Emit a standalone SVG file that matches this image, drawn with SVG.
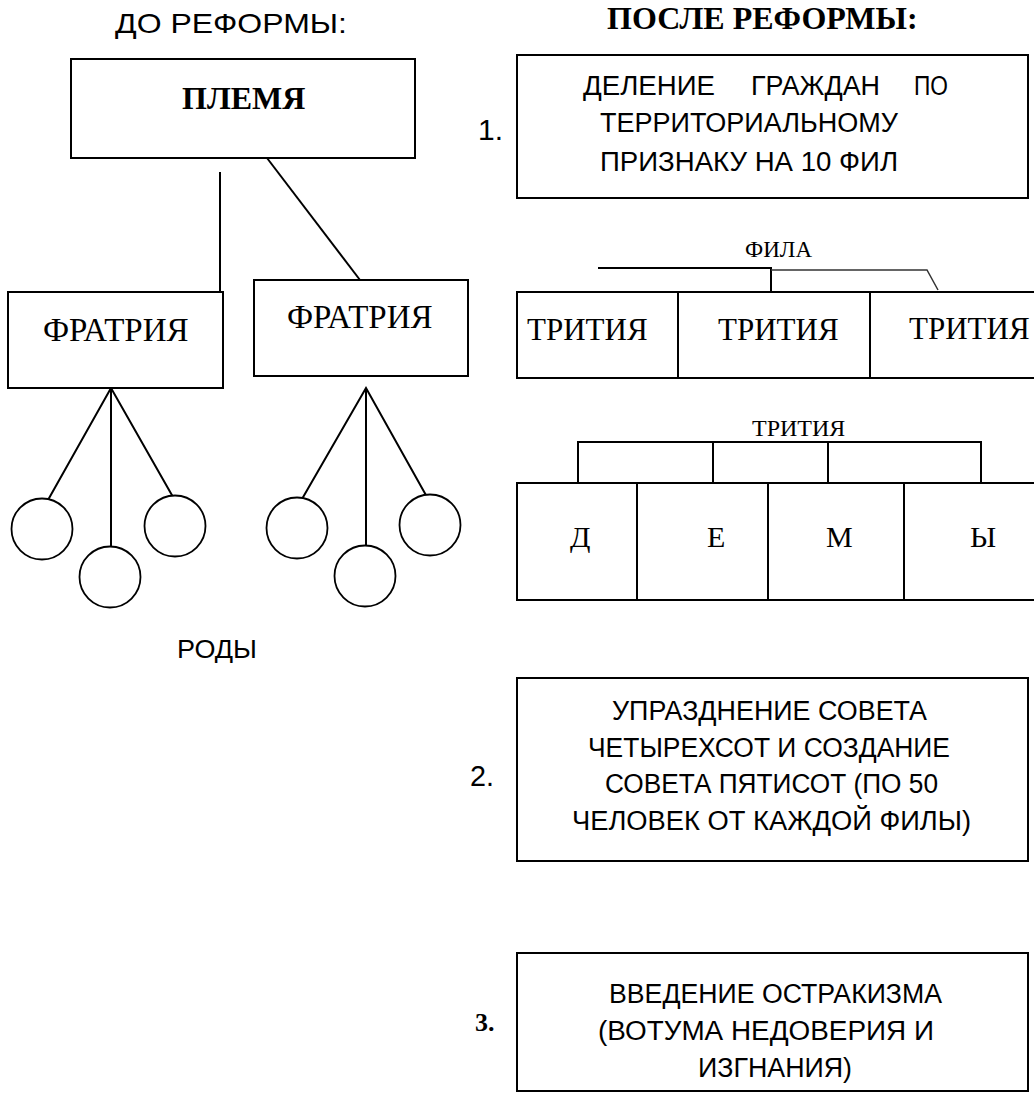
<svg xmlns="http://www.w3.org/2000/svg" width="1034" height="1095" viewBox="0 0 1034 1095">
<style>
.box{fill:#fff;stroke:#000;stroke-width:2}
.ln{fill:none;stroke:#000;stroke-width:2}
.thin{fill:none;stroke:#333;stroke-width:1.5}
.circ{fill:#fff;stroke:#000;stroke-width:1.8}
.sans{font-family:'Liberation Sans','DejaVu Sans',sans-serif;fill:#000}
</style>
<rect width="1034" height="1095" fill="#fff"/>

<g id="headings">
<text class="sans" x="115" y="33" font-size="28" textLength="232" lengthAdjust="spacingAndGlyphs">ДО РЕФОРМЫ:</text>
<text font-family="'Liberation Serif', serif" font-weight="bold" x="607" y="29" font-size="32">ПОСЛЕ РЕФОРМЫ:</text>
</g>

<g id="connectors">
<line class="ln" x1="220" y1="172" x2="220" y2="292"/>
<line class="ln" x1="267" y1="158" x2="360" y2="280"/>
<polyline class="ln" points="48,500 111,388 173,497"/>
<line class="ln" x1="111" y1="388" x2="111" y2="546"/>
<polyline class="ln" points="302,499 366,388 427,497"/>
<line class="ln" x1="366" y1="388" x2="366" y2="545"/>
<polyline class="ln" points="598,268 771,268 771,292"/>
<polyline class="thin" points="771,270 927,270 938,290"/>
<polyline class="ln" points="578,483 578,442 981,442 981,483"/>
<line class="ln" x1="713" y1="442" x2="713" y2="483"/>
<line class="ln" x1="828" y1="442" x2="828" y2="483"/>
</g>

<g id="plemya">
<rect class="box" x="71" y="59" width="344" height="99"/>
<text font-family="'Liberation Serif', serif" font-weight="bold" x="182" y="109" font-size="32">ПЛЕМЯ</text>
</g>

<g id="fratria-left">
<rect class="box" x="8" y="292" width="215" height="96"/>
<text font-family="'Liberation Serif', serif" x="43" y="341" font-size="33">ФРАТРИЯ</text>
</g>

<g id="fratria-right">
<rect class="box" x="254" y="280" width="214" height="96"/>
<text font-family="'Liberation Serif', serif" x="287" y="328" font-size="33">ФРАТРИЯ</text>
</g>

<g id="rody-left">
<circle class="circ" cx="42" cy="529" r="30.5"/>
<circle class="circ" cx="110" cy="577" r="30.5"/>
<circle class="circ" cx="175" cy="526" r="30.5"/>
</g>
<g id="rody-right">
<circle class="circ" cx="297" cy="528" r="30.5"/>
<circle class="circ" cx="365" cy="576" r="30.5"/>
<circle class="circ" cx="430" cy="525" r="30.5"/>
</g>
<g id="rody-label">
<text class="sans" x="177" y="658" font-size="26" textLength="80" lengthAdjust="spacingAndGlyphs">РОДЫ</text>
</g>

<g id="reform1">
<text class="sans" x="478" y="140" font-size="29" textLength="25" lengthAdjust="spacingAndGlyphs">1.</text>
<rect class="box" x="517" y="55" width="511" height="143"/>
<text class="sans" y="95" font-size="27"><tspan x="583" textLength="132" lengthAdjust="spacingAndGlyphs">ДЕЛЕНИЕ</tspan><tspan x="751" textLength="129" lengthAdjust="spacingAndGlyphs">ГРАЖДАН</tspan><tspan x="914" textLength="34" lengthAdjust="spacingAndGlyphs">ПО</tspan></text>
<text class="sans" x="600" y="132" font-size="27" textLength="298" lengthAdjust="spacingAndGlyphs">ТЕРРИТОРИАЛЬНОМУ</text>
<text class="sans" x="600" y="171" font-size="27" textLength="298" lengthAdjust="spacingAndGlyphs">ПРИЗНАКУ НА 10 ФИЛ</text>
</g>

<g id="fila">
<text font-family="'Liberation Serif', serif" x="745" y="257" font-size="23">ФИЛА</text>
<path class="ln" d="M1036,292 H517 V378 H1036 M678,292 V378 M870,292 V378"/>
<text font-family="'Liberation Serif', serif" x="527" y="340" font-size="31">ТРИТИЯ</text>
<text font-family="'Liberation Serif', serif" x="718" y="340" font-size="31">ТРИТИЯ</text>
<text font-family="'Liberation Serif', serif" x="909" y="339" font-size="31">ТРИТИЯ</text>
</g>

<g id="trittys">
<text font-family="'Liberation Serif', serif" x="752" y="436" font-size="24">ТРИТИЯ</text>
<path class="ln" d="M1036,483 H517 V600 H1036 M637,483 V600 M768,483 V600 M904,483 V600"/>
<text font-family="'Liberation Serif', serif" x="570" y="547" font-size="30">Д</text>
<text font-family="'Liberation Serif', serif" x="707" y="547" font-size="30">Е</text>
<text font-family="'Liberation Serif', serif" x="826" y="547" font-size="30">М</text>
<text font-family="'Liberation Serif', serif" x="970" y="547" font-size="30">Ы</text>
</g>

<g id="reform2">
<text class="sans" x="470" y="786" font-size="29" textLength="24" lengthAdjust="spacingAndGlyphs">2.</text>
<rect class="box" x="517" y="678" width="511" height="183"/>
<text class="sans" x="612" y="720" font-size="27" textLength="315" lengthAdjust="spacingAndGlyphs">УПРАЗДНЕНИЕ СОВЕТА</text>
<text class="sans" x="588" y="757" font-size="27" textLength="362" lengthAdjust="spacingAndGlyphs">ЧЕТЫРЕХСОТ И СОЗДАНИЕ</text>
<text class="sans" x="605" y="793" font-size="27" textLength="333" lengthAdjust="spacingAndGlyphs">СОВЕТА ПЯТИСОТ (ПО 50</text>
<text class="sans" x="572" y="830" font-size="27" textLength="399" lengthAdjust="spacingAndGlyphs">ЧЕЛОВЕК ОТ КАЖДОЙ ФИЛЫ)</text>
</g>

<g id="reform3">
<text font-family="'Liberation Serif', serif" font-weight="bold" x="475" y="1031" font-size="26">3.</text>
<rect class="box" x="517" y="953" width="511" height="138"/>
<text class="sans" x="609" y="1003" font-size="27" textLength="333" lengthAdjust="spacingAndGlyphs">ВВЕДЕНИЕ ОСТРАКИЗМА</text>
<text class="sans" x="598" y="1040" font-size="27" textLength="336" lengthAdjust="spacingAndGlyphs">(ВОТУМА НЕДОВЕРИЯ И</text>
<text class="sans" x="698" y="1077" font-size="27" textLength="154" lengthAdjust="spacingAndGlyphs">ИЗГНАНИЯ)</text>
</g>
</svg>
